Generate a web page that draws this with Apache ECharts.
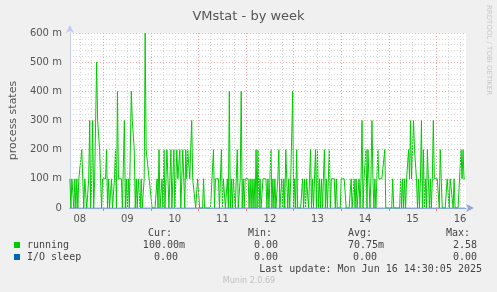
<!DOCTYPE html>
<html><head><meta charset="utf-8">
<script src="https://cdn.jsdelivr.net/npm/echarts@6/dist/echarts.min.js"></script>
<style>html,body{margin:0;padding:0;background:#f0f0f0;}#c{width:497px;height:292px;}</style>
</head><body><div id="c"></div>
<script>
// time axis: hours since Jun 08 00:00, one sample every 30 minutes starting at 07:00
const startHour = 7;
const stepHours = 0.5;
const dayTicks = [12, 36, 60, 84, 108, 132, 156, 180, 204];
const dayLabels = ['08', '09', '10', '11', '12', '13', '14', '15', '16'];
const midnights = [24, 48, 72, 96, 120, 144, 168, 192];
const sixHourLines = [12, 18, 30, 36, 42, 54, 60, 66, 78, 84, 90, 102, 108, 114, 126, 132, 138, 150, 156, 162, 174, 180, 186, 198, 204];
const yTicks = [0, 0.1, 0.2, 0.3, 0.4, 0.5, 0.6];
const yTickLabels = ['0', '100 m', '200 m', '300 m', '400 m', '500 m', '600 m'];

const running = [
0.1,0,0.1,0.1,0,0.1,0,0.1,0,0.1,
0.1,0.1,0.2,0.1,0,0.1,0.1,0,0,0.1,
0.3,0,0.1,0.3,0,0.1,0.1,0.5,0.3,0.3,
0.2,0.1,0,0.1,0.1,0.1,0.1,0.2,0,0.1,
0,0,0.1,0,0,0.1,0.2,0,0.4,0.1,
0.1,0.1,0.1,0,0,0.3,0,0.1,0,0.1,
0,0,0.4,0.3,0.3,0.2,0,0.1,0,0.1,
0.1,0,0.1,0,0,0.1,0.6,0.2,0.2,0.2,
0.1,0.1,0.1,0,0,0,0,0,0.1,0,
0.2,0,0,0.1,0,0.2,0,0.1,0.2,0.1,
0,0.1,0.2,0,0.1,0.2,0,0.1,0.2,0.1,
0.1,0.2,0,0.1,0.2,0.1,0,0.2,0.1,0.2,
0.2,0.1,0.2,0.3,0.1,0.1,0.1,0,0,0.1,
0.1,0,0,0,0,0.1,0,0,0,0,
0,0,0,0,0,0.2,0,0.1,0.1,0.1,
0.1,0,0,0.2,0,0.1,0.1,0,0,0.1,
0,0.4,0,0.1,0,0.1,0.1,0,0.1,0.2,
0,0,0.1,0.4,0,0.1,0,0.1,0.1,0.1,
0.1,0,0.1,0,0.1,0,0.1,0,0.2,0,
0.2,0,0.1,0,0,0.1,0.1,0.1,0.1,0,
0.1,0,0,0.2,0,0.1,0,0.1,0,0,
0.1,0.2,0,0,0.1,0,0.1,0,0.2,0.1,
0,0.1,0,0.1,0.1,0.4,0,0.1,0,0.2,
0,0,0,0,0,0.1,0,0.1,0,0.1,
0.1,0,0.1,0.2,0,0.1,0,0,0.2,0,
0.2,0,0.1,0,0.1,0,0.1,0.2,0,0.1,
0,0.1,0.2,0,0.1,0.1,0.1,0.1,0,0.1,
0,0,0,0,0.1,0.1,0.1,0.1,0.1,0,
0,0,0,0,0.1,0,0,0.1,0,0.1,
0,0,0.1,0,0.1,0.3,0,0.1,0.1,0.2,
0,0.2,0.1,0,0.1,0.3,0.1,0,0.1,0,
0.1,0.2,0.1,0.1,0.1,0.1,0.1,0.1,0.2,0,
0,0,0,0,0,0,0.1,0,0,0,
0,0,0,0,0.1,0,0.1,0,0.1,0,
0.1,0.1,0.2,0.1,0.3,0.1,0.2,0.3,0.2,0.2,
0.1,0,0.1,0,0.1,0.3,0,0.2,0,0.1,
0,0.2,0.1,0,0.1,0,0.1,0.3,0.1,0.1,
0.1,0.1,0.1,0,0.2,0.1,0,0,0,0,
0,0.1,0.1,0,0.1,0.1,0.1,0,0.1,0,
0,0,0,0,0,0.2,0.1,0.2,0.1,0.1
];
const iosleep = running.map(() => 0);

const legendNames = ['running', 'I/O sleep'];
const legendColors = ['#00cc00', '#0066b3'];
const statHeaders = ['Cur:', 'Min:', 'Avg:', 'Max:'];
const statRunning = ['100.00m', '0.00', '70.75m', '2.58'];
const statIosleep = ['0.00', '0.00', '0.00', '0.00'];

const runPts = running.map((v, i) => [startHour + i * stepHours, v]);
const ioPts = iosleep.map((v, i) => [startHour + i * stepHours, v]);

const chart = echarts.init(document.getElementById('c'), null, {renderer: 'canvas'});
const mono = 'DejaVu Sans Mono';
const txt = (t, x, y, align, extra) => ({
  type: 'text', x: x, y: y, silent: true,
  style: Object.assign({text: t, fill: '#444', font: '10px "' + mono + '"', textAlign: align, textVerticalAlign: 'middle'}, extra || {})
});
const statCols = [185, 278, 384, 477];
const ioCols = [178, 278, 377, 477];
const headCols = [172, 272, 372, 470];
const graphics = [];
statHeaders.forEach((h, i) => graphics.push(txt(h, headCols[i], 233, 'right')));
graphics.push({type: 'rect', shape: {x: 14, y: 242, width: 6, height: 6}, style: {fill: legendColors[0]}});
graphics.push({type: 'rect', shape: {x: 14, y: 254, width: 6, height: 6}, style: {fill: legendColors[1]}});
graphics.push(txt(legendNames[0], 27, 245, 'left'));
graphics.push(txt(legendNames[1], 27, 257, 'left'));
statRunning.forEach((s, i) => graphics.push(txt(s, statCols[i], 245, 'right')));
statIosleep.forEach((s, i) => graphics.push(txt(s, ioCols[i], 257, 'right')));
graphics.push(txt('Last update: Mon Jun 16 14:30:05 2025', 482, 269, 'right'));
graphics.push(txt('Munin 2.0.69', 249, 281, 'center', {fill: '#c0c0c0', font: '8px "DejaVu Sans"'}));
graphics.push({type: 'text', x: 489, y: 5, rotation: -Math.PI / 2, silent: true,
  style: {text: 'RRDTOOL / TOBI OETIKER', fill: '#c8c8c8', font: '7px "DejaVu Sans"', textAlign: 'left', textVerticalAlign: 'middle'}});

const vline = (vals, color) => ({
  type: 'line', data: [], z: 1, silent: true,
  markLine: {silent: true, symbol: ['none', 'none'], label: {show: false}, animation: false,
    lineStyle: {color: color, width: 1, type: [1, 2]},
    data: vals.map(v => ({xAxis: v}))}
});

chart.setOption({
  animation: false,
  backgroundColor: '#f0f0f0',
  title: {text: 'VMstat - by week', left: 'center', top: 5,
    textStyle: {fontFamily: 'DejaVu Sans', fontSize: 13, fontWeight: 'normal', color: '#555'}},
  grid: {left: 66, top: 33, width: 400, height: 175, show: true, backgroundColor: '#ffffff', borderWidth: 0},
  xAxis: {
    type: 'value', min: 7, max: 207,
    axisLine: {show: true, lineStyle: {color: '#8fa6dc', width: 1}, symbol: ['none', 'arrow'], symbolSize: [6, 8], symbolOffset: [0, 8]},
    axisTick: {show: true, customValues: midnights, length: 3, lineStyle: {color: '#f08080'}},
    axisLabel: {customValues: dayTicks, formatter: v => dayLabels[dayTicks.indexOf(v)], color: '#555',
      fontFamily: 'DejaVu Sans', fontSize: 10, margin: 6},
    splitLine: {show: false}
  },
  yAxis: {
    type: 'value', min: 0, max: 0.6, interval: 0.1,
    name: 'process states', nameLocation: 'middle', nameGap: 50,
    nameTextStyle: {fontFamily: 'DejaVu Sans', fontSize: 11, color: '#555'},
    axisLine: {show: true, lineStyle: {color: '#c4cbf0'}, symbol: ['none', 'arrow'], symbolSize: [6, 8], symbolOffset: [0, 8]},
    axisTick: {show: false},
    axisLabel: {formatter: v => yTickLabels[yTicks.findIndex(t => Math.abs(t - v) < 1e-9)], color: '#555',
      fontFamily: 'DejaVu Sans', fontSize: 10, margin: 8},
    splitLine: {show: true, lineStyle: {color: '#f0a8a8', type: [1, 2]}},
    minorTick: {show: false, splitNumber: 5},
    minorSplitLine: {show: true, lineStyle: {color: '#d8d8d8', type: [1, 2]}}
  },
  graphic: graphics,
  series: [
    vline(sixHourLines, '#d4d4d4'),
    vline(midnights, '#f0a0a0'),
    {name: 'I/O sleep', type: 'line', data: ioPts, showSymbol: false, z: 3,
      lineStyle: {color: '#8fa6dc', width: 1}},
    {name: 'running', type: 'line', data: runPts, showSymbol: false, z: 4,
      lineStyle: {color: '#00cc00', width: 1}}
  ]
});
</script></body></html>
